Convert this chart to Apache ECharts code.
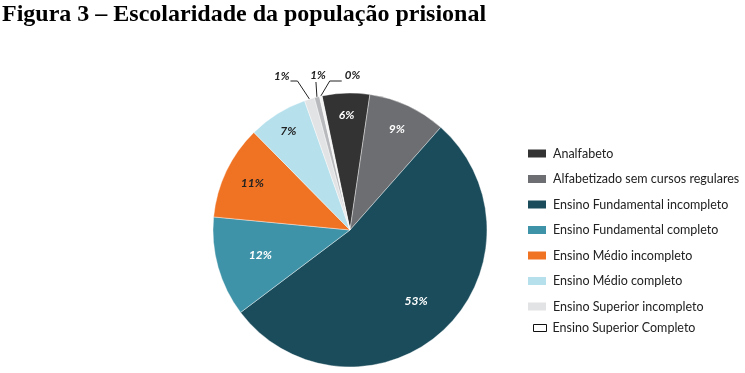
<!DOCTYPE html>
<html><head><meta charset="utf-8">
<script src="https://cdn.jsdelivr.net/npm/echarts@6/dist/echarts.min.js"></script>
<style>html,body{margin:0;padding:0;background:#fff}#c{width:745px;height:373px}</style>
</head><body><div id="c"></div>
<script>
const titleText = 'Figura 3 – Escolaridade da população prisional';
const categories = ['Analfabeto','Alfabetizado sem cursos regulares','Ensino Fundamental incompleto','Ensino Fundamental completo','Ensino Médio incompleto','Ensino Médio completo','Ensino Superior incompleto','Ensino Superior Completo','Acima de Superior Completo'];
const values = [5.6, 9.2, 53.2, 11.8, 11.1, 7.0, 1.2, 0.6, 0.3];
const colors = ['#333334','#6d6e71','#1b4c5b','#3f93a8','#f07223','#b6e0ec','#e2e3e5','#b8b9bc','#f4f4f4'];
const labelColors = ['#fff','#fff','#fff','#fff','#222','#222','#222','#222','#222'];
const legendNames = categories.slice(0, 8);

// layout / style
const CX = 350, CY = 230, R = 137, START = 101.8;
const labelRadius = [0.84, 0.81, 0.71, 0.68, 0.79, 0.85];

const chart = echarts.init(document.getElementById('c'), null, {renderer:'canvas'});
const fmt = p => Math.round(p.value) + '%';
const small = v => v < 2;
const mainData = categories.map((n,i)=>({
  name:n, value:values[i], itemStyle:{color:colors[i]},
  label:{show:small(values[i])}, labelLine:{show:small(values[i])}
}));
const overlayData = categories.map((n,i)=>({
  name:n, value:values[i],
  label:{show:!small(values[i]), color:labelColors[i]}
}));
const lineY = CY - R - 12;
function outerLayout(p){
  if (!p.labelLinePoints) return {};
  const a = p.labelLinePoints[0];
  const k = p.dataIndex;
  if (k === 6) return {x:a[0]-20, y:lineY-5, align:'right', verticalAlign:'middle',
    labelLinePoints:[a,[a[0]-12,lineY],[a[0]-19,lineY]]};
  if (k === 7) return {x:a[0]+1, y:lineY-6, align:'center', verticalAlign:'middle',
    labelLinePoints:[a,[a[0]-1,lineY+1],[a[0]-1,lineY+1]]};
  return {x:a[0]+24, y:lineY-6, align:'left', verticalAlign:'middle',
    labelLinePoints:[a,[a[0]+9,lineY],[a[0]+21,lineY]]};
}
function innerLayout(p){
  const r = p.labelRect;
  const lx = r.x + r.width/2, ly = r.y + r.height/2;
  const dx = lx - CX, dy = ly - CY, d = Math.hypot(dx,dy) || 1;
  const f = labelRadius[p.dataIndex] || 0.78;
  return {x: CX + dx/d*f*R, y: CY + dy/d*f*R, align:'center', verticalAlign:'middle'};
}
const legendText = {fontFamily:'Lato',fontSize:12.5,color:'#222',lineHeight:15,padding:[0,0,0,1]};
chart.setOption({
  animation:false,
  title:{text:titleText,left:-3,top:-2,textStyle:{fontFamily:'Liberation Serif',fontWeight:'bold',fontSize:24,color:'#000'}},
  legend:[{
    orient:'vertical', left:521, top:141, itemWidth:20, itemHeight:10, itemGap:10.5,
    icon:'rect', selectedMode:false, textStyle:legendText,
    data: legendNames.slice(0,7)
  },{
    orient:'vertical', left:528, top:315.5, itemWidth:13, itemHeight:7,
    icon:'rect', selectedMode:false, textStyle:legendText,
    data: [{name:legendNames[7], itemStyle:{color:'#fff',borderColor:'#111',borderWidth:1}}]
  }],
  series:[
    {type:'pie', center:[CX,CY], radius:[0,R], startAngle:START, clockwise:true,
     avoidLabelOverlap:false, silent:true,
     itemStyle:{borderColor:'#fff',borderWidth:0.4},
     label:{position:'outside',formatter:fmt,fontFamily:'Lato',fontStyle:'italic',fontWeight:'bold',fontSize:11.5,color:'#222'},
     labelLine:{length:10,length2:8,lineStyle:{color:'#222',width:1}},
     labelLayout:outerLayout,
     data:mainData},
    {type:'pie', center:[CX,CY], radius:[77,R], startAngle:START, clockwise:true, silent:true,
     itemStyle:{color:'rgba(0,0,0,0)'}, labelLine:{show:false},
     label:{position:'inside',formatter:fmt,fontFamily:'Lato',fontStyle:'italic',fontWeight:'bold',fontSize:12},
     labelLayout:innerLayout,
     data:overlayData}
  ]
});
</script></body></html>
